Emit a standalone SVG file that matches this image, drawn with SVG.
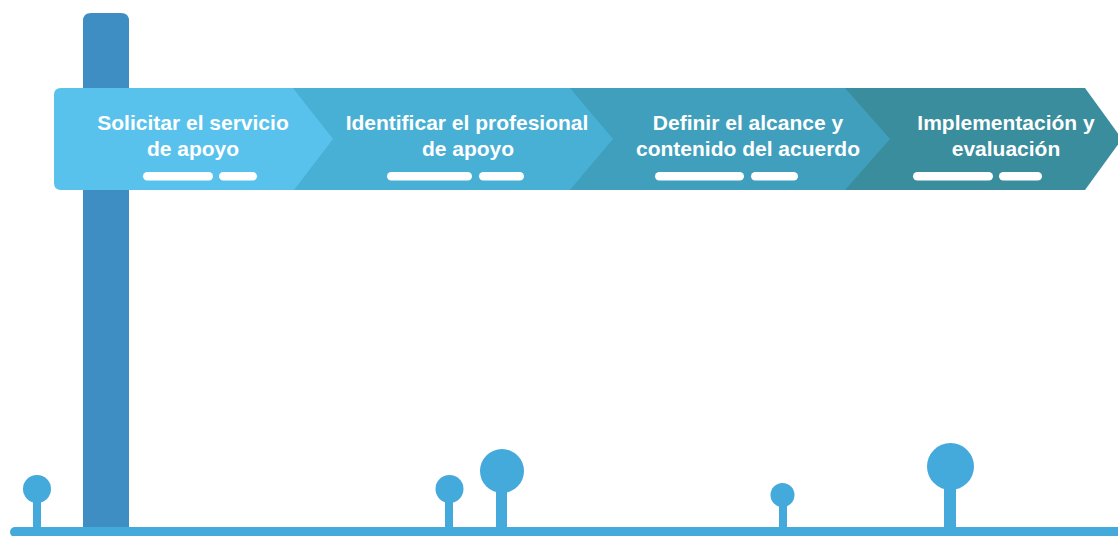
<svg xmlns="http://www.w3.org/2000/svg" width="1118" height="536" viewBox="0 0 1118 536">
<style>
.lbl{font-family:"Liberation Sans",Arial,Helvetica,sans-serif;font-weight:bold;font-size:21px;fill:#ffffff;text-anchor:middle}
.pill{fill:#ffffff}
.lol{fill:#44a9db}
</style>
<rect width="1118" height="536" fill="#ffffff"/>
<g id="post">
<path d="M83 527 V21 Q83 13 91 13 H121 Q129 13 129 21 V527 Z" fill="#3e8ec3"/>
</g>
<g id="ground">
<rect x="10" y="527" width="1112" height="10" rx="5" class="lol"/>
</g>
<g id="lollipops">
<rect x="33" y="489" width="8" height="40" class="lol"/><circle cx="37" cy="489" r="14" class="lol"/>
<rect x="445" y="489" width="8" height="40" class="lol"/><circle cx="449.5" cy="489" r="14" class="lol"/>
<rect x="496" y="471" width="11" height="58" class="lol"/><circle cx="502" cy="471" r="22" class="lol"/>
<rect x="779" y="495" width="8" height="34" class="lol"/><circle cx="782.5" cy="495" r="12" class="lol"/>
<rect x="944" y="466" width="12" height="63" class="lol"/><circle cx="950.5" cy="466.5" r="23.5" class="lol"/>
</g>
<g id="step4">
<path d="M840 88 H1085 L1122 139 L1085 190 H840 Z" fill="#3a8d9c"/>
<text class="lbl" x="1006" y="130">Implementación y</text>
<text class="lbl" x="1006" y="156">evaluación</text>
<rect class="pill" x="913" y="172" width="80" height="8.5" rx="4.25"/>
<rect class="pill" x="999" y="172" width="43" height="8.5" rx="4.25"/>
</g>
<g id="step3">
<path d="M565 88 H845 L890 139 L845 190 H565 Z" fill="#3f9fbc"/>
<text class="lbl" x="748" y="130">Definir el alcance y</text>
<text class="lbl" x="748" y="156">contenido del acuerdo</text>
<rect class="pill" x="655" y="172" width="89" height="8.5" rx="4.25"/>
<rect class="pill" x="751" y="172" width="47" height="8.5" rx="4.25"/>
</g>
<g id="step2">
<path d="M290 88 H570 L613 139 L570 190 H290 Z" fill="#48afd5"/>
<text class="lbl" x="467" y="130">Identificar el profesional</text>
<text class="lbl" x="468" y="156">de apoyo</text>
<rect class="pill" x="387" y="172" width="85" height="8.5" rx="4.25"/>
<rect class="pill" x="479" y="172" width="45" height="8.5" rx="4.25"/>
</g>
<g id="step1">
<path d="M61 88 H293 L333 139 L294 190 H61 Q54 190 54 183 V95 Q54 88 61 88 Z" fill="#58c2ed"/>
<text class="lbl" x="193" y="130">Solicitar el servicio</text>
<text class="lbl" x="193" y="156">de apoyo</text>
<rect class="pill" x="143" y="172" width="70" height="8.5" rx="4.25"/>
<rect class="pill" x="219" y="172" width="38" height="8.5" rx="4.25"/>
</g>
</svg>
